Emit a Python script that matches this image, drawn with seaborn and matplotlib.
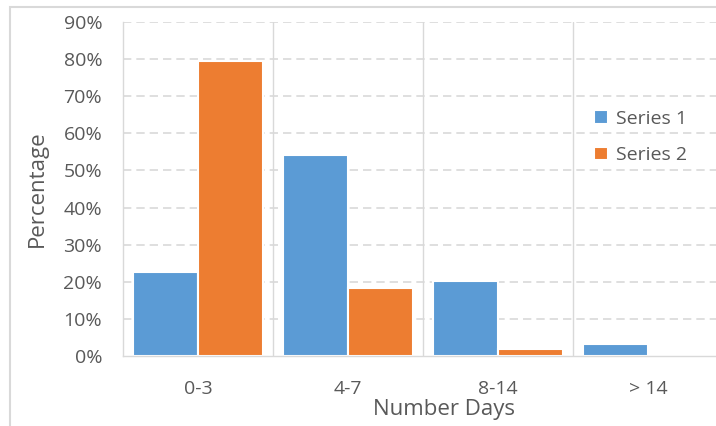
import matplotlib
matplotlib.use("Agg")
import matplotlib.pyplot as plt
import seaborn as sns
import pandas as pd
from matplotlib.patches import Rectangle
from matplotlib.ticker import PercentFormatter

categories = ["0-3", "4-7", "8-14", "> 14"]
series1 = [22.6, 54.2, 20.2, 3.2]
series2 = [79.5, 18.3, 1.9, 0.0]
series_names = ["Series 1", "Series 2"]
colors = ["#5B9BD5", "#ED7D31"]

df = pd.DataFrame({
    "Number Days": categories * 2,
    "Percentage": series1 + series2,
    "Series": [series_names[0]] * 4 + [series_names[1]] * 4,
})

sns.set_theme(style="white")
plt.rcParams["font.family"] = ["Open Sans", "DejaVu Sans"]

fig = plt.figure(figsize=(7.16, 4.26), dpi=100)
ax = fig.add_axes([123/716, 1-356/426, (716-123)/716, (356-22)/426])

sns.barplot(data=df, x="Number Days", y="Percentage", hue="Series",
            palette=colors, width=0.87, edgecolor="white", linewidth=1.5,
            ax=ax, saturation=1)

ax.set_ylim(0, 90)
ax.set_xlim(-0.5, -0.5 + 593/150)
ax.set_yticks(range(0, 91, 10))
ax.yaxis.set_major_formatter(PercentFormatter(decimals=0))
for y in range(10, 91, 10):
    ax.axhline(y, color="#D9D9D9", lw=1.2, ls=(0, (5, 3)), zorder=0)
for x in [0.5, 1.5, 2.5]:
    ax.axvline(x, color="#D9D9D9", lw=1.0, zorder=0)

for s in ["top", "right"]:
    ax.spines[s].set_visible(False)
ax.spines["left"].set_color("#D9D9D9")
ax.spines["bottom"].set_color("#D9D9D9")
ax.spines["left"].set_linewidth(1.0)
ax.spines["bottom"].set_linewidth(1.0)

ax.tick_params(axis="both", colors="#595959", labelsize=14, length=0)
ax.tick_params(axis="y", pad=15)
ax.tick_params(axis="x", pad=17)
ax.set_xlabel("Number Days", color="#595959", fontsize=16, va="center")
ax.xaxis.set_label_coords((444 - 123) / 593, (356 - 410) / 334)
ax.set_ylabel("Percentage", color="#595959", fontsize=16, labelpad=11)

leg = ax.legend(loc="center left", bbox_to_anchor=(0.765, 0.655), frameon=False,
                fontsize=14, handlelength=0.7, handleheight=0.7, handletextpad=0.4,
                labelspacing=0.95)
for t in leg.get_texts():
    t.set_color("#595959")

fig.patches.append(Rectangle((10/716, -0.1), 1.2, 1 - 7/426 + 0.1,
                             transform=fig.transFigure, fill=False,
                             edgecolor="#D9D9D9", lw=1.5))

fig.savefig("out.png", dpi=100)
